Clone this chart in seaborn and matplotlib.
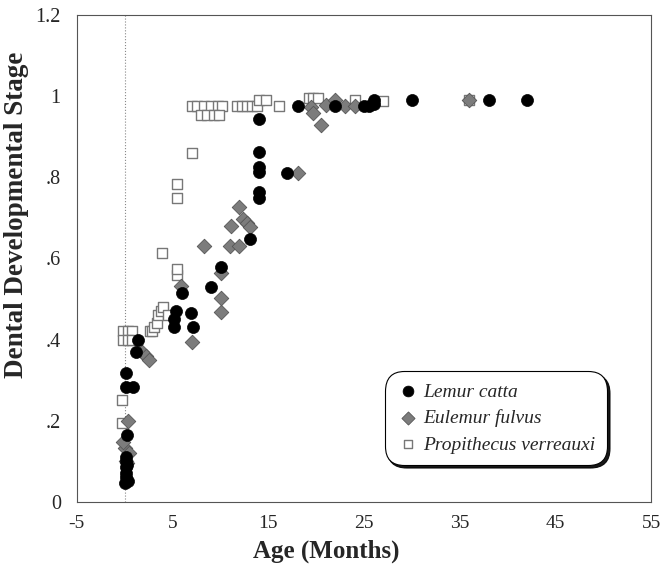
import numpy as np
import pandas as pd
import matplotlib
matplotlib.use("Agg")
import matplotlib.pyplot as plt
import seaborn as sns
from matplotlib.ticker import MultipleLocator, FuncFormatter

# Lemur catta
catta_age = [0.0, 0.3, 0.1, 0.1, 0.15, 0.2, 0.1, 0.1, 0.2, 0.1, 0.9, 0.1, 1.2, 1.4,
             5.2, 5.2, 5.4, 6.0, 6.9, 7.1, 9.0, 10.1, 13.1,
             14.0, 14.0, 14.0, 14.0, 14.0, 14.0, 16.9, 18.1, 22.0, 25.0, 25.5, 26.0, 26.0,
             30.0, 38.0, 42.0]
catta_stage = [0.045, 0.05, 0.06, 0.07, 0.085, 0.09, 0.10, 0.11, 0.165, 0.283, 0.283, 0.317, 0.37, 0.40,
               0.43, 0.45, 0.47, 0.515, 0.465, 0.43, 0.53, 0.58, 0.648,
               0.75, 0.765, 0.813, 0.825, 0.862, 0.943, 0.81, 0.975, 0.975, 0.975, 0.975, 0.98, 0.99,
               0.99, 0.99, 0.99]

# Eulemur fulvus
fulvus_age = [0.1, 0.2, 0.0, 0.4, -0.2, 0.3, 1.8, 2.2, 2.5, 5.9, 7.0, 8.3,
              10.1, 10.1, 10.1, 11.0, 11.1, 11.9, 11.9, 12.4, 12.8, 13.1, 18.1,
              19.5, 19.7, 20.5, 21.0, 22.0, 23.0, 24.0, 36.0]
fulvus_stage = [0.10, 0.095, 0.133, 0.12, 0.148, 0.20, 0.37, 0.36, 0.35, 0.532, 0.394, 0.63,
                0.468, 0.502, 0.564, 0.63, 0.68, 0.63, 0.727, 0.697, 0.687, 0.677, 0.81,
                0.973, 0.96, 0.93, 0.978, 0.99, 0.975, 0.975, 0.99]

# Propithecus verreauxi
verr_age = [-0.2, 0.3, 0.8, -0.2, 0.3, 0.8, -0.3, -0.3,
            2.6, 2.9, 3.1, 3.4, 3.5, 3.8, 4.0, 4.5, 3.9, 5.5, 5.5, 5.5, 5.5, 7.0,
            7.0, 7.6, 8.3, 9.0, 9.7, 10.2, 8.0, 8.6, 9.3, 9.9,
            11.7, 12.3, 12.8, 13.3, 13.8, 14.0, 14.8, 16.1,
            19.2, 19.7, 20.2, 24.1, 27.0, 36.0]
verr_stage = [0.42, 0.42, 0.42, 0.40, 0.40, 0.40, 0.25, 0.195,
              0.42, 0.42, 0.43, 0.44, 0.46, 0.47, 0.48, 0.46, 0.613, 0.56, 0.575, 0.75, 0.783, 0.86,
              0.975, 0.975, 0.975, 0.975, 0.975, 0.975, 0.953, 0.953, 0.953, 0.953,
              0.975, 0.975, 0.975, 0.975, 0.975, 0.99, 0.99, 0.975,
              0.995, 0.995, 0.995, 0.99, 0.988, 0.99]

sns.set_style("white")
plt.rcParams['font.family'] = ['Liberation Serif', 'DejaVu Serif']
plt.rcParams['axes.unicode_minus'] = False

fig, ax = plt.subplots(figsize=(6.62, 5.65), dpi=100)
fig.subplots_adjust(left=0.116, right=0.984, bottom=0.112, top=0.973)

ax.axvline(0, color='#888888', linestyle=':', linewidth=0.8, zorder=0)

sns.scatterplot(x=verr_age, y=verr_stage, marker='s', s=45, color='white',
                edgecolor='#777777', linewidth=1.0, label='Propithecus verreauxi', ax=ax, zorder=2)
sns.scatterplot(x=fulvus_age, y=fulvus_stage, marker='D', s=55, color='#7c7c7c',
                edgecolor='#555555', linewidth=0.6, label='Eulemur fulvus', ax=ax, zorder=3)
sns.scatterplot(x=catta_age, y=catta_stage, marker='o', s=75, color='black',
                edgecolor='black', linewidth=0.5, label='Lemur catta', ax=ax, zorder=4)

ax.set_xlim(-5, 55)
ax.set_ylim(0, 1.2)
ax.set_xticks(np.arange(-5, 56, 10))
ax.xaxis.set_minor_locator(MultipleLocator(2))
ax.yaxis.set_major_locator(MultipleLocator(0.2))
ax.yaxis.set_minor_locator(MultipleLocator(0.05))
ax.yaxis.set_major_formatter(FuncFormatter(
    lambda v, p: '0' if abs(v) < 1e-9 else ('1' if abs(v - 1) < 1e-9 else
                                            ('1.2' if abs(v - 1.2) < 1e-9 else f"{v:.1f}".lstrip('0')))))
ax.tick_params(which='major', direction='inout', length=7, width=0.8, labelsize=14.5, color='#444444')
ax.tick_params(axis='x', which='major', labelsize=14)
ax.tick_params(axis='y', which='major', pad=8)
ax.tick_params(axis='x', which='major', pad=6)
ax.tick_params(which='minor', direction='in', length=3, width=0.6, color='#444444')
ax.tick_params(axis='x', which='both', top=False)
ax.tick_params(axis='y', which='both', right=False)
for sp in ax.spines.values():
    sp.set_color('#555555')
    sp.set_linewidth(0.8)

ax.set_xlabel('Age (Months)', fontsize=18, fontweight='bold')
ax.set_ylabel('Dental Developmental Stage', fontsize=19.5, fontweight='bold')
ax.xaxis.set_label_coords(0.435, -0.078)
ax.yaxis.set_label_coords(-0.083, 0.59)

handles, labels = ax.get_legend_handles_labels()
order = [2, 1, 0]
leg = ax.legend([handles[i] for i in order], [labels[i] for i in order],
                loc='lower right', bbox_to_anchor=(0.94, 0.055), fancybox=True, shadow={'color': 'black', 'alpha': 0.9},
                frameon=True, framealpha=1, prop={'style': 'italic', 'size': 14}, handletextpad=0.2,
                handlelength=1.2, borderpad=0.6, labelspacing=0.45, markerscale=0.9)
leg.get_frame().set_edgecolor('black')
leg.get_frame().set_linewidth(0.8)
leg.get_frame().set_boxstyle('round', pad=0, rounding_size=1.0)

fig.savefig('out.png', dpi=100)
